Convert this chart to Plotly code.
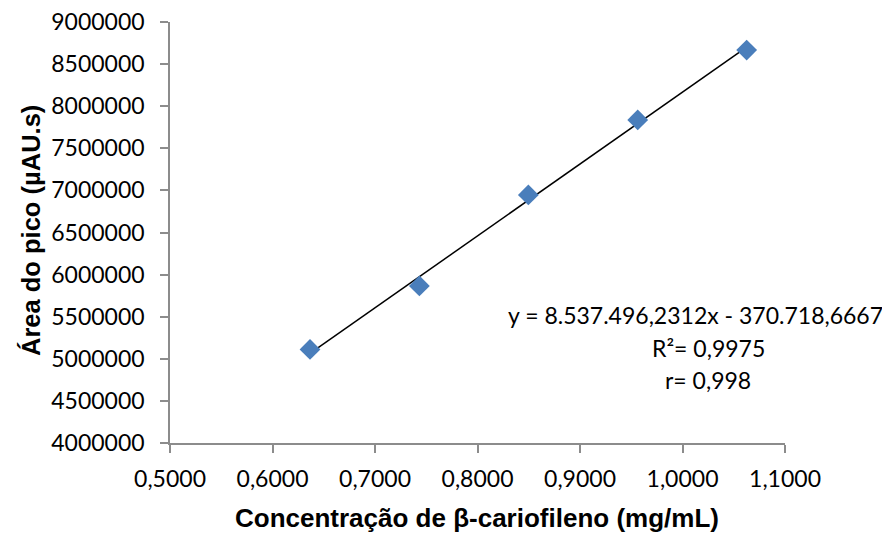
import plotly.graph_objects as go

# Data
concentracao = [0.6366, 0.7433, 0.8496, 0.9563, 1.0626]
area = [5111000, 5865000, 6946000, 7837000, 8666000]

slope = 8537496.2312
intercept = -370718.6667
eq_lines = ["y = 8.537.496,2312x - 370.718,6667", "R²= 0,9975", "r= 0,998"]

x_title = "Concentração de β-cariofileno (mg/mL)"
y_title = "Área do pico (µAU.s)"

xmin, xmax = min(concentracao), max(concentracao)
trend_x = [xmin, xmax]
trend_y = [slope * v + intercept for v in trend_x]

fig = go.Figure()
fig.add_trace(go.Scatter(x=trend_x, y=trend_y, mode="lines",
                         line=dict(color="black", width=1.5), showlegend=False, hoverinfo="skip"))
fig.add_trace(go.Scatter(x=concentracao, y=area, mode="markers",
                         marker=dict(symbol="diamond", size=16, color="#4A7EBB", line=dict(width=0)),
                         showlegend=False))

tickfont = dict(family="Lato, Open Sans, sans-serif", size=23, color="black")
axis_common = dict(showline=True, linecolor="#8C8C8C", linewidth=1.5, ticks="outside",
                   tickcolor="#8C8C8C", ticklen=8, tickwidth=1.5, showgrid=False,
                   zeroline=False, tickfont=tickfont, ticklabeloverflow="allow",
                   automargin=False)

fig.update_xaxes(range=[0.5, 1.1], dtick=0.1, tick0=0.5, tickformat=".4f",
                 ticklabelstandoff=7, **axis_common)
fig.update_yaxes(range=[4000000, 9000000], dtick=500000, tick0=4000000, tickformat="d",
                 ticklabelstandoff=11, **axis_common)

# plot area occupies screen x 170..785, y 22..443
TOP, BOTTOM = 22, 443

def px_x(px):
    return (px - 170) / 615

def px_y(py):
    return (BOTTOM - py) / (BOTTOM - TOP)

annotations = []
eq_pos = [(695, 315), (708, 348), (708, 380)]
for txt, (px, py) in zip(eq_lines, eq_pos):
    annotations.append(dict(text=txt, xref="paper", yref="paper",
                            x=px_x(px), y=px_y(py),
                            xanchor="center", yanchor="middle", showarrow=False,
                            font=dict(family="Lato, Open Sans, sans-serif", size=23, color="black")))
annotations.append(dict(text="<b>" + x_title + "</b>", xref="paper", yref="paper",
                        x=px_x(477), y=px_y(518), xanchor="center", yanchor="middle",
                        showarrow=False,
                        font=dict(family="Liberation Sans, Arial, sans-serif", size=26, color="black")))
annotations.append(dict(text="<b>" + y_title + "</b>", xref="paper", yref="paper",
                        x=px_x(31), y=px_y(231), xanchor="center", yanchor="middle",
                        textangle=-90, showarrow=False,
                        font=dict(family="Liberation Sans, Arial, sans-serif", size=25.5, color="black")))

# page body has an 8px margin, so the figure is 8px smaller and shifted
fig.update_layout(width=882, height=528, margin=dict(l=162, r=105, t=TOP - 8, b=93),
                  plot_bgcolor="white", paper_bgcolor="white", separators=",.",
                  annotations=annotations)

fig.write_html("out.html")
